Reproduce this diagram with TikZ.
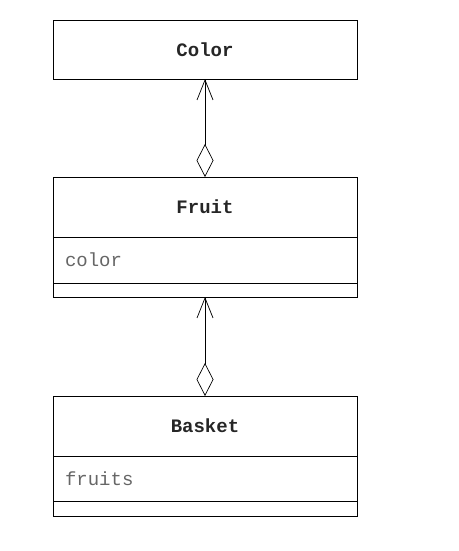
\documentclass[tikz,border=0pt]{standalone}
\usepackage{fontspec}
\setmonofont{Liberation Mono}
\usetikzlibrary{arrows.meta}
\usetikzlibrary{positioning}
\tikzset{classname/.style = {draw, line width = 0.7, minimum width = 304, inner sep = 0, outer sep = 0, minimum height = 60, text = black!85, font = \ttfamily\bfseries\fontsize{19}{22}\selectfont}}
\tikzset{classattr/.style = {draw, line width = 0.7, text width = 280, inner xsep = 12, inner ysep = 0, outer sep = 0, minimum height = 46, align = left, text = black!60, font = \ttfamily\fontsize{19}{22}\selectfont}}
\tikzset{classops/.style = {draw, line width = 0.7, minimum width = 304, inner sep = 0, outer sep = 0, minimum height = 14}}
\tikzset{aggr/.style = {line width = 0.7, {Diamond[open, length = 33, width = 17]}-{Straight Barb[length = 20, width = 16]}}}

\begin{document}
\begin{tikzpicture}[x = 1pt, y = -1pt]
      \useasboundingbox (0, 0) rectangle (458, 551);
      \node [classname, minimum height = 59] (color) at (205, 49.5) {Color};
      \node [classname, below = 98pt of color] (fruit) {Fruit};
      \node [classattr, below = 0pt of fruit] (fruitattr) {color};
      \node [classops, below = 0pt of fruitattr] (fruitops) {};
      \node [classname, below = 99pt of fruitops] (basket) {Basket};
      \node [classattr, minimum height = 45, below = 0pt of basket] (basketattr) {fruits};
      \node [classops, minimum height = 15, below = 0pt of basketattr] (basketops) {};
      \draw [aggr] (fruit.north) -- (color.south);
      \draw [aggr] (basket.north) -- (fruitops.south);
    \end{tikzpicture}
\end{document}
